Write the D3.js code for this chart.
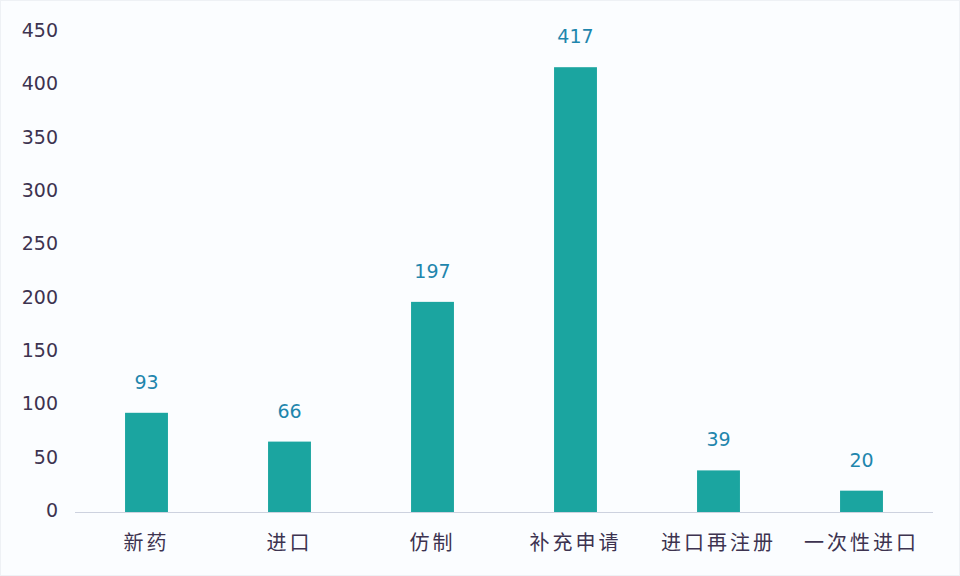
<!DOCTYPE html>
<html><head><meta charset="utf-8">
<script src="https://cdn.jsdelivr.net/npm/d3@7"></script>
<style>
html,body{margin:0;padding:0;background:#fbfdff;}
svg{display:block;}
</style></head>
<body><svg id="c" width="960" height="576"></svg>
<script>
const categories = ["新药","进口","仿制","补充申请","进口再注册","一次性进口"];
const values = [93,66,197,417,39,20];
const yTicks = [0,50,100,150,200,250,300,350,400,450];

(function(){
const svg = d3.select("#c");
svg.append("rect").attr("x",0.5).attr("y",0.5).attr("width",959).attr("height",575)
  .attr("fill","#fbfdff").attr("stroke","#eef1f5");

const mLeft = 75, mRight = 933, mTop = 32, mBottom = 512;
const x = d3.scaleBand().domain(categories).range([mLeft,mRight]).paddingInner(0.7).paddingOuter(0.35);
const y = d3.scaleLinear().domain([0,450]).range([mBottom,mTop]);

const yAxis = d3.axisLeft(y).tickValues(yTicks).tickSize(0).tickPadding(0);
const gy = svg.append("g").attr("transform","translate(58,-2)").call(yAxis);
gy.select(".domain").remove();
gy.selectAll("text").attr("font-family","DejaVu Sans, Verdana, sans-serif").attr("font-size",19)
  .attr("fill","#3d3350").attr("dy","0.35em");

svg.append("line").attr("x1",mLeft).attr("x2",mRight).attr("y1",mBottom+0.5).attr("y2",mBottom+0.5)
  .attr("stroke","#cdd2df").attr("stroke-width",1.2);

svg.selectAll("rect.bar").data(values).enter().append("rect").attr("class","bar")
  .attr("x",(d,i)=>x(categories[i])).attr("width",x.bandwidth())
  .attr("y",d=>y(d)).attr("height",d=>mBottom-y(d)).attr("fill","#1ba5a0");

svg.selectAll("text.val").data(values).enter().append("text").attr("class","val")
  .attr("x",(d,i)=>x(categories[i])+x.bandwidth()/2).attr("y",d=>y(d)-24)
  .attr("text-anchor","middle").attr("font-family","DejaVu Sans, Verdana, sans-serif")
  .attr("font-size",19).attr("fill","#1f86ad").text(d=>d);

const xAxis = d3.axisBottom(x).tickSize(0).tickPadding(0);
const gx = svg.append("g").attr("transform",`translate(0,${mBottom})`).call(xAxis);
gx.select(".domain").remove();
gx.selectAll("text").attr("font-family","Noto Sans CJK SC, sans-serif").attr("font-size",20)
  .attr("fill","#3d3350").attr("dy",0).attr("y",38).attr("letter-spacing","3px");
})();
</script></body></html>
